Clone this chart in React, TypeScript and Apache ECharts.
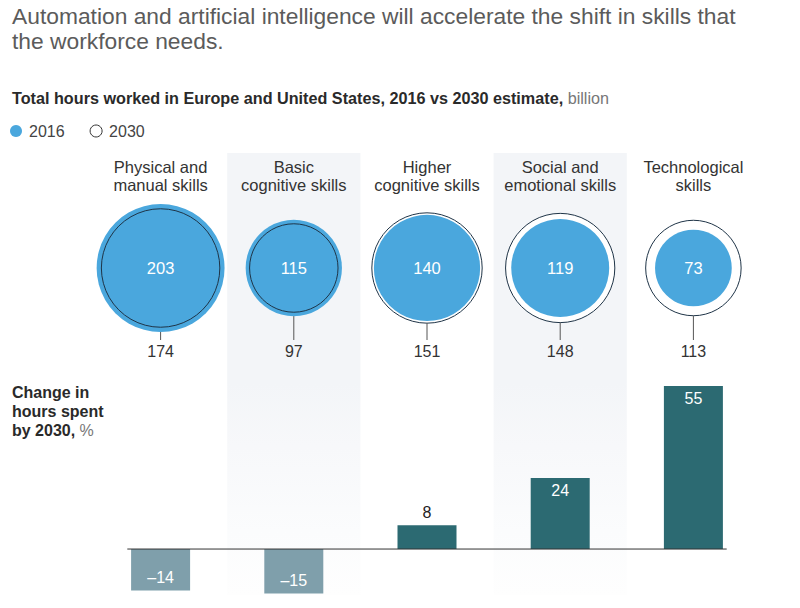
import React, { useEffect, useRef } from "react";
import * as echarts from "echarts";

const categories = [
  "Physical and\nmanual skills",
  "Basic\ncognitive skills",
  "Higher\ncognitive skills",
  "Social and\nemotional skills",
  "Technological\nskills",
];
const hours2016 = [203, 115, 140, 119, 73];
const hours2030 = [174, 97, 151, 148, 113];
const changePct = [-14, -15, 8, 24, 55];

const FONT = "'Liberation Sans', Arial, sans-serif";
const BLUE = "#4aa7dd";
const NAVY = "#1e3346";
const K = 4.49; // px radius per sqrt(billion hours)

export default function App() {
  const ref = useRef<HTMLDivElement>(null);
  useEffect(() => {
    if (!ref.current) return;
    const chart = echarts.init(ref.current, null, { renderer: "svg" });
    const size = (v: any) => 2 * K * Math.sqrt(v[2]);
    const pts16 = hours2016.map((v, i) => [i, 0, v]);
    const pts30 = hours2030.map((v, i) => [i, 0, v]);
    const fade = new echarts.graphic.LinearGradient(0, 0, 0, 1, [
      { offset: 0, color: "#f3f5f8" },
      { offset: 0.3, color: "#f7f8fa" },
      { offset: 0.7, color: "#fbfcfd" },
      { offset: 1, color: "#fefefe" },
    ]);
    chart.setOption({
      animation: false,
      textStyle: { fontFamily: FONT },
      title: [
        {
          text: "Automation and artificial intelligence will accelerate the shift in skills that\nthe workforce needs.",
          left: 12,
          top: 3,
          padding: 0,
          textStyle: { fontFamily: FONT, fontSize: 22.8, fontWeight: "normal", color: "#5b5b5b", lineHeight: 25 },
        },
        {
          text: "{b|Total hours worked in Europe and United States, 2016 vs 2030 estimate,}{n| billion}",
          left: 12,
          top: 89,
          padding: 0,
          textStyle: {
            rich: {
              b: { fontFamily: FONT, fontSize: 16.2, color: "#2a2a2a", lineHeight: 18, fontWeight: "bold" },
              n: { fontFamily: FONT, fontSize: 16.2, color: "#777", lineHeight: 18, fontWeight: "normal" },
            },
          },
        },
        {
          text: "{b|Change in}\n{b|hours spent}\n{b|by 2030,}{n| %}",
          left: 12,
          top: 383,
          padding: 0,
          textStyle: {
            rich: {
              b: { fontFamily: FONT, fontSize: 16, color: "#2a2a2a", lineHeight: 19, fontWeight: "bold" },
              n: { fontFamily: FONT, fontSize: 16, color: "#777", lineHeight: 19, fontWeight: "normal" },
            },
          },
        },
      ],
      legend: {
        left: 10,
        top: 123,
        padding: 0,
        itemWidth: 16,
        itemHeight: 12,
        itemGap: 25,
        icon: "circle",
        textStyle: { fontFamily: FONT, fontSize: 16, color: "#444" },
        data: [
          { name: "2016", itemStyle: { color: BLUE, borderWidth: 0 } },
          { name: "2030", itemStyle: { color: "#fff", borderColor: "#333", borderWidth: 1 } },
        ],
      },
      grid: [
        { left: 94, right: 40, top: 153, height: 230 },
        { left: 94, right: 40, top: 383, bottom: 13 },
      ],
      xAxis: [
        {
          type: "category",
          gridIndex: 0,
          position: "top",
          data: categories,
          axisLine: { show: false },
          axisTick: { show: false },
          axisLabel: {
            inside: true,
            margin: 5,
            fontFamily: FONT,
            fontSize: 16.5,
            lineHeight: 18,
            color: "#333",
            interval: 0,
          },
          splitArea: { show: true, areaStyle: { color: ["rgba(0,0,0,0)", "#f3f5f8"] } },
        },
        {
          type: "category",
          gridIndex: 1,
          data: categories,
          axisLine: { show: false },
          axisTick: { show: false },
          axisLabel: { show: false },
          splitArea: { show: true, areaStyle: { color: ["rgba(0,0,0,0)", fade] } },
        },
        { type: "value", gridIndex: 1, min: -0.5, max: 4.5, show: false },
      ],
      yAxis: [
        { type: "value", gridIndex: 0, min: -1, max: 1, show: false },
        { type: "value", gridIndex: 1, min: -15.5, max: 56, show: false },
      ],
      series: [
        {
          name: "2030",
          type: "scatter",
          xAxisIndex: 0,
          yAxisIndex: 0,
          data: pts30,
          symbolSize: size,
          itemStyle: { color: "#fff", opacity: 1 },
          silent: true,
          z: 1,
        },
        {
          name: "2016",
          type: "scatter",
          xAxisIndex: 0,
          yAxisIndex: 0,
          data: pts16,
          symbolSize: size,
          itemStyle: { color: BLUE, opacity: 1 },
          label: {
            show: true,
            position: "inside",
            formatter: (p: any) => String(p.value[2]),
            color: "#fff",
            fontFamily: FONT,
            fontSize: 16.5,
          },
          z: 2,
        },
        {
          name: "2030",
          type: "scatter",
          xAxisIndex: 0,
          yAxisIndex: 0,
          data: pts30,
          symbolSize: size,
          itemStyle: { color: "rgba(0,0,0,0)", borderColor: NAVY, borderWidth: 1, opacity: 1 },
          silent: true,
          z: 3,
        },
        {
          type: "custom",
          xAxisIndex: 0,
          yAxisIndex: 0,
          data: hours2016.map((v, i) => [i, 0, v, hours2030[i]]),
          renderItem: (params: any, api: any) => {
            const c = api.coord([api.value(0), api.value(1)]);
            const r = K * Math.sqrt(Math.max(api.value(2), api.value(3)));
            return {
              type: "group",
              children: [
                {
                  type: "line",
                  shape: { x1: c[0], y1: c[1] + r, x2: c[0], y2: c[1] + 72 },
                  style: { stroke: "#555", lineWidth: 1 },
                },
                {
                  type: "text",
                  x: c[0],
                  y: c[1] + 83,
                  style: {
                    text: String(api.value(3)),
                    fill: "#333",
                    font: `16px ${FONT}`,
                    align: "center",
                    verticalAlign: "middle",
                  },
                },
              ],
            };
          },
          z: 4,
        },
        {
          type: "bar",
          xAxisIndex: 1,
          yAxisIndex: 1,
          barWidth: 59,
          data: changePct.map((v) => ({
            value: v,
            itemStyle: { color: v < 0 ? "#7f9fab" : "#2c6a72" },
            label:
              v < 0
                ? { position: "insideBottom", distance: 5, color: "#fff" }
                : v < 15
                ? { position: "top", distance: 5, color: "#222" }
                : { position: "insideTop", distance: 5, color: "#fff" },
          })),
          label: {
            show: true,
            fontFamily: FONT,
            fontSize: 16,
            formatter: (p: any) => (p.value < 0 ? "\u2013" + Math.abs(p.value) : String(p.value)),
          },
          z: 2,
        },
        {
          type: "line",
          xAxisIndex: 2,
          yAxisIndex: 1,
          data: [
            [-0.25, 0],
            [4.25, 0],
          ],
          symbol: "none",
          silent: true,
          lineStyle: { color: "#333", width: 1 },
          z: 5,
        },
      ],
    });
    return () => chart.dispose();
  }, []);
  return (
    <div
      ref={ref}
      style={{ position: "fixed", left: 0, top: 0, width: 800, height: 608, background: "#fff" }}
    />
  );
}
